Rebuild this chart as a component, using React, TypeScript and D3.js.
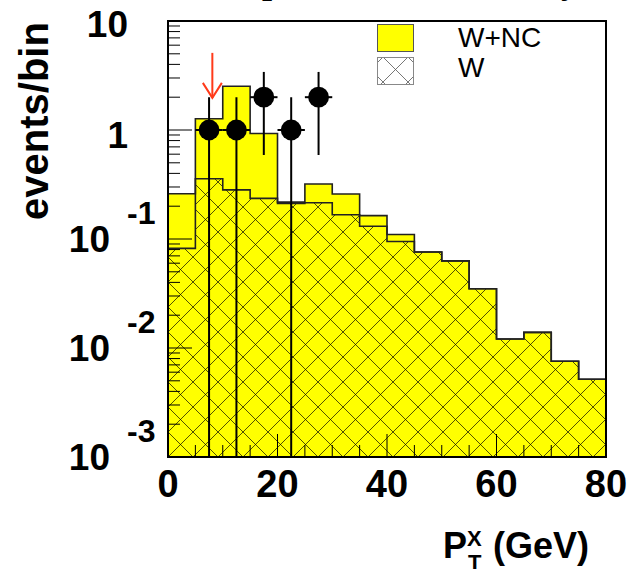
import React from 'react';
import * as d3 from 'd3';

// ---- data ----
const binEdges = [0, 5, 10, 15, 20, 25, 30, 35, 40, 45, 50, 55, 60, 65, 70, 75];
const binWidth = 5;
const wncValues = [0.26, 1.27, 2.52, 0.93, 0.218, 0.32, 0.259, 0.164, 0.11, 0.076, 0.063, 0.035, 0.0121, 0.0139, 0.00755, 0.00516];
const wValues = [0.082, 0.357, 0.282, 0.236, 0.212, 0.215, 0.167, 0.131, 0.095, 0.076, 0.063, 0.035, 0.0121, 0.0139, 0.00755, 0.00516];

const dataX = [7.5, 12.5, 17.5, 22.5, 27.5];
const dataY = [1, 1, 2, 1, 2];
const dataErrLow = [1, 1, 1.41, 1, 1.41];
const dataErrHigh = [1, 1, 1.41, 1, 1.41];
const dataXErr = [2.5, 2.5, 2.5, 2.5, 2.5];

const arrowX = 8.1;
const arrowFrom = 5.1;
const arrowTo = 1.97;

const xTickMajor = [0, 20, 40, 60, 80];
const xTickMinor = [5, 10, 15, 25, 30, 35, 45, 50, 55, 65, 70, 75];
const yTickLabels = [
  { v: 10, base: '10', exp: '' },
  { v: 1, base: '1', exp: '' },
  { v: 0.1, base: '10', exp: '-1' },
  { v: 0.01, base: '10', exp: '-2' },
  { v: 0.001, base: '10', exp: '-3' },
];
const legendLabels = ['W+NC', 'W'];

// ---- layout ----
const W = 631, H = 569;
const L = 168, R = 606, T = 21, B = 457;
const FONT = '"Liberation Sans", Arial, Helvetica, sans-serif';
const SERIF = '"Liberation Serif", "Times New Roman", serif';

export default function App() {
  const x = d3.scaleLinear().domain([0, 80]).range([L, R]);
  const y = d3.scaleLog().domain([1e-3, 10]).range([B, T]).clamp(true);

  const toPts = (vals: number[]) => {
    const pts = binEdges.map((e, i) => ({ x: e, v: vals[i] }));
    pts.push({ x: binEdges[binEdges.length - 1] + binWidth, v: vals[vals.length - 1] });
    return pts;
  };
  const area = d3.area<{ x: number; v: number }>()
    .curve(d3.curveStepAfter)
    .x(d => x(d.x)).y0(B).y1(d => y(d.v));
  const line = d3.line<{ x: number; v: number }>()
    .curve(d3.curveStepAfter)
    .x(d => x(d.x)).y(d => y(d.v));

  const wncPts = toPts(wncValues);
  const wPts = toPts(wValues);

  const yMinor: number[] = [];
  [0.001, 0.01, 0.1, 1].forEach(dec => {
    for (let k = 2; k <= 9; k++) yMinor.push(dec * k);
  });
  const yMajor = [0.001, 0.01, 0.1, 1, 10];

  return (
    <svg width={W} height={H} style={{ position: 'absolute', left: 0, top: 0, background: '#fff' }}
      xmlns="http://www.w3.org/2000/svg">
      <defs>
        <clipPath id="frame">
          <rect x={L} y={T} width={R - L} height={B - T} />
        </clipPath>
        <pattern id="hatch" patternUnits="userSpaceOnUse" width={25} height={25} x={L} y={B}>
          <path d="M0,0 L25,25 M0,25 L25,0" stroke="#000" strokeOpacity={0.68} strokeWidth={1} />
        </pattern>
        <pattern id="hatchLeg" patternUnits="userSpaceOnUse" width={25} height={25} x={383} y={57}>
          <path d="M0,0 L25,25 M0,25 L25,0" stroke="#555" strokeOpacity={0.8} strokeWidth={1} />
        </pattern>
      </defs>

      {/* title remnants (cut off at top edge) */}
      <text x={262} y={-7} fontFamily={SERIF} fontWeight="bold" fontSize={36}>p</text>
      <text x={561} y={-7} fontFamily={SERIF} fontWeight="bold" fontSize={36}>y</text>

      <g clipPath="url(#frame)">
        <path d={area(wncPts) || ''} fill="#ffff00" />
        <path d={area(wPts) || ''} fill="url(#hatch)" />
        <path d={line(wPts) || ''} fill="none" stroke="#222" strokeWidth={1.6} />
        <path d={line(wncPts) || ''} fill="none" stroke="#222" strokeWidth={1.6} />

        {yMajor.map(v => (
          <line key={'ym' + v} x1={L} x2={L + 24} y1={y(v)} y2={y(v)} stroke="#000" strokeWidth={1} />
        ))}
        {yMinor.map(v => (
          <line key={'yn' + v} x1={L} x2={L + 12} y1={y(v)} y2={y(v)} stroke="#000" strokeWidth={1} />
        ))}
        {xTickMajor.map(v => (
          <line key={'xm' + v} x1={x(v)} x2={x(v)} y1={B} y2={B - 23} stroke="#000" strokeWidth={1} />
        ))}
        {xTickMinor.map(v => (
          <line key={'xn' + v} x1={x(v)} x2={x(v)} y1={B} y2={B - 12} stroke="#000" strokeWidth={1} />
        ))}

        {dataX.map((dx, i) => {
          const cy = y(dataY[i]);
          const lo = dataY[i] - dataErrLow[i];
          return (
            <g key={'d' + i}>
              <line x1={x(dx)} x2={x(dx)} y1={y(dataY[i] + dataErrHigh[i])}
                y2={lo > 0 ? y(lo) : B} stroke="#000" strokeWidth={2} />
              <line x1={x(dx - dataXErr[i])} x2={x(dx + dataXErr[i])} y1={cy} y2={cy}
                stroke="#000" strokeWidth={2} />
              <circle cx={x(dx)} cy={cy} r={10.4} fill="#000" />
            </g>
          );
        })}
      </g>

      {/* arrow */}
      <g stroke="#ff3a1a" strokeWidth={2} fill="none">
        <line x1={x(arrowX)} x2={x(arrowX)} y1={y(arrowFrom)} y2={y(arrowTo)} />
        <path d={`M${x(arrowX) - 9.5},${y(arrowTo) - 15} L${x(arrowX)},${y(arrowTo)} L${x(arrowX) + 9.5},${y(arrowTo) - 15}`} />
      </g>

      <rect x={L} y={T} width={R - L} height={B - T} fill="none" stroke="#000" strokeWidth={2} />

      {yTickLabels.map(t => (
        t.exp === '' ? (
          <text key={'yl' + t.v} x={128} y={y(t.v) + (t.v === 10 ? 16 : 18)} textAnchor="end"
            fontFamily={FONT} fontWeight="bold" fontSize={37}>{t.base}</text>
        ) : (
          <g key={'yl' + t.v}>
            <text x={110} y={y(t.v) + 13} textAnchor="end" fontFamily={FONT} fontWeight="bold" fontSize={37}>{t.base}</text>
            <text x={127} y={y(t.v) - 15} textAnchor="start" fontFamily={FONT} fontWeight="bold" fontSize={32}>{t.exp}</text>
          </g>
        )
      ))}

      {xTickMajor.map(v => (
        <text key={'xl' + v} x={x(v)} y={497} textAnchor="middle" fontFamily={FONT} fontWeight="bold" fontSize={38}>{v}</text>
      ))}

      <text transform={`translate(48,121) rotate(-90)`} textAnchor="middle" fontFamily={FONT}
        fontWeight="bold" fontSize={40}>events/bin</text>
      <g fontFamily={FONT} fontWeight="bold">
        <text x={443} y={558} fontSize={36}>P</text>
        <text x={467} y={546} fontSize={22}>X</text>
        <text x={468} y={570} fontSize={22}>T</text>
        <text x={493} y={558} fontSize={36}>(GeV)</text>
      </g>

      <rect x={377.5} y={24.5} width={36} height={27} fill="#ffff00" stroke="#555" strokeWidth={1} />
      <rect x={377.5} y={57.5} width={36} height={27} fill="#fff" stroke="#888" strokeWidth={1} />
      <rect x={378} y={58} width={35} height={26} fill="url(#hatchLeg)" />
      <text x={458} y={47} fontFamily={FONT} fontSize={28}>{legendLabels[0]}</text>
      <text x={458} y={77} fontFamily={FONT} fontSize={28}>{legendLabels[1]}</text>
    </svg>
  );
}
